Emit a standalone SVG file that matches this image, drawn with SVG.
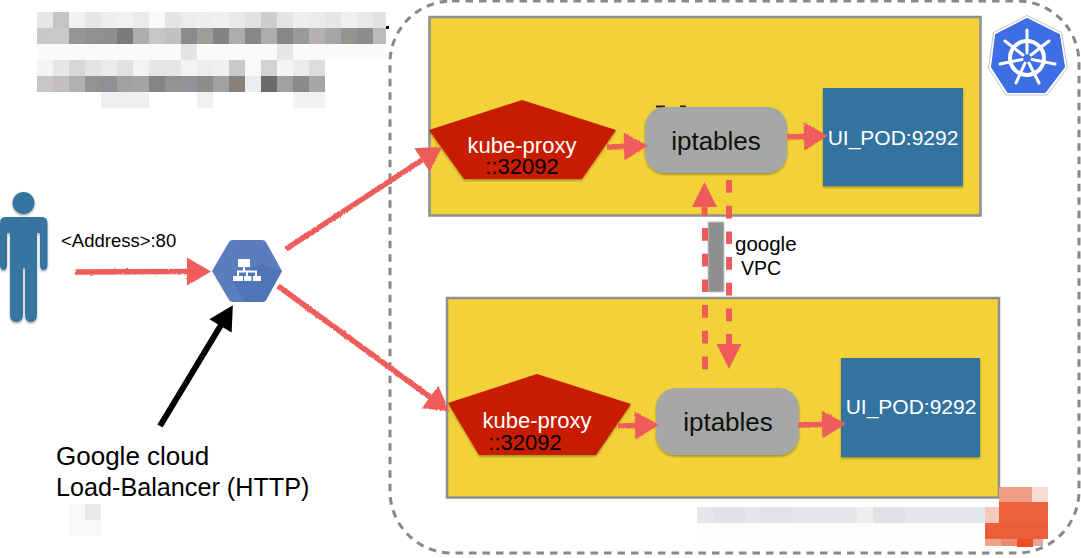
<svg xmlns="http://www.w3.org/2000/svg" width="1081" height="558" viewBox="0 0 1081 558">
<defs>
<filter id="sh" x="-10%" y="-10%" width="120%" height="125%"><feDropShadow dx="0" dy="1.5" stdDeviation="1.2" flood-color="#000" flood-opacity="0.35"/></filter>
<filter id="rough" filterUnits="userSpaceOnUse" x="0" y="0" width="1081" height="558"><feTurbulence type="fractalNoise" baseFrequency="0.4" numOctaves="2" seed="4"/><feDisplacementMap in="SourceGraphic" scale="2.500" xChannelSelector="R" yChannelSelector="G"/></filter>
<marker id="ah" markerUnits="userSpaceOnUse" markerWidth="26" markerHeight="30" refX="1" refY="15" orient="auto"><path d="M1 1L25 15L1 29Z" fill="#ef5b5b"/></marker>
<marker id="ahb" markerUnits="userSpaceOnUse" markerWidth="28" markerHeight="28" refX="1" refY="13.500" orient="auto"><path d="M1 1L26 13.500L1 26Z" fill="#ef5b5b"/></marker>
<marker id="ahk" markerUnits="userSpaceOnUse" markerWidth="26" markerHeight="28" refX="2" refY="14" orient="auto"><path d="M1 1L25 14L1 27Z" fill="#000"/></marker>
</defs>
<style>
text{font-family:"Liberation Sans",Arial,sans-serif}
.box{fill:#f2d238;stroke:#8f8f8f;stroke-width:2.5}
.ipt{fill:#a5a8a6}
.pod{fill:#31739f}
.prx{fill:#c81e06}
.con{fill:none;stroke:#ef5b5b;stroke-width:5.500}
.stem{fill:none;stroke:#ef5b5b;stroke-width:6}
.dash{fill:none;stroke:#ef5b5b;stroke-width:6;stroke-dasharray:12.700 13}
.w{fill:#fff;font-size:22px;text-anchor:middle}
.u{fill:#fff;font-size:21px;text-anchor:middle}
.b{fill:#000;font-size:22px;text-anchor:middle}
.big{fill:#111;font-size:26px;text-anchor:middle}
.v{fill:#000;font-size:18.500px}
</style>
<rect width="1081" height="558" fill="#fff"/>
<g id="blur-top" shape-rendering="crispEdges">
<rect x="37" y="12" width="16" height="16" fill="#e6e6e5"/><rect x="53" y="12" width="16" height="16" fill="#c4c4c4"/><rect x="69" y="12" width="16" height="16" fill="#f2f2f2"/><rect x="85" y="12" width="16" height="16" fill="#e6e6e6"/><rect x="101" y="12" width="16" height="16" fill="#eeeeee"/><rect x="117" y="12" width="16" height="16" fill="#f1f1f1"/><rect x="133" y="12" width="16" height="16" fill="#ebebeb"/><rect x="149" y="12" width="16" height="16" fill="#f9f9f9"/><rect x="165" y="12" width="16" height="16" fill="#e4e4e2"/><rect x="181" y="12" width="16" height="16" fill="#ececec"/><rect x="197" y="12" width="16" height="16" fill="#edefee"/><rect x="213" y="12" width="16" height="16" fill="#f0f0f0"/><rect x="229" y="12" width="16" height="16" fill="#e9e9e9"/><rect x="245" y="12" width="16" height="16" fill="#e2e0e0"/><rect x="261" y="12" width="16" height="16" fill="#cdcdcd"/><rect x="277" y="12" width="16" height="16" fill="#e3e3e3"/><rect x="293" y="12" width="16" height="16" fill="#eeeeee"/><rect x="309" y="12" width="16" height="16" fill="#ebebeb"/><rect x="325" y="12" width="16" height="16" fill="#e6e6e6"/><rect x="341" y="12" width="16" height="16" fill="#eef0f1"/><rect x="357" y="12" width="16" height="16" fill="#e8e8e8"/><rect x="373" y="12" width="13" height="16" fill="#e2e2e2"/>
<rect x="37" y="28" width="16" height="16" fill="#c9c8c8"/><rect x="53" y="28" width="16" height="16" fill="#c9c9c9"/><rect x="69" y="28" width="16" height="16" fill="#979592"/><rect x="85" y="28" width="16" height="16" fill="#90918f"/><rect x="101" y="28" width="16" height="16" fill="#8f8f8f"/><rect x="117" y="28" width="16" height="16" fill="#7b7b7e"/><rect x="133" y="28" width="16" height="16" fill="#aeaeae"/><rect x="149" y="28" width="16" height="16" fill="#c5c6c7"/><rect x="165" y="28" width="16" height="16" fill="#c1c1c1"/><rect x="181" y="28" width="16" height="16" fill="#8a8b8c"/><rect x="197" y="28" width="16" height="16" fill="#a09d99"/><rect x="213" y="28" width="16" height="16" fill="#828387"/><rect x="229" y="28" width="16" height="16" fill="#adacaa"/><rect x="245" y="28" width="16" height="16" fill="#87888a"/><rect x="261" y="28" width="16" height="16" fill="#adaca9"/><rect x="277" y="28" width="16" height="16" fill="#868688"/><rect x="293" y="28" width="16" height="16" fill="#97999a"/><rect x="309" y="28" width="16" height="16" fill="#b6b0b0"/><rect x="325" y="28" width="16" height="16" fill="#a5a6a7"/><rect x="341" y="28" width="16" height="16" fill="#96948f"/><rect x="357" y="28" width="16" height="16" fill="#8b8e91"/><rect x="373" y="28" width="13" height="16" fill="#bcbbb8"/>
<rect x="37" y="44" width="349" height="16" fill="#fafafa"/><rect x="181" y="44" width="16" height="16" fill="#e4e4e4"/><rect x="277" y="44" width="16" height="16" fill="#e6e7e8"/>
<rect x="37" y="60" width="16" height="16" fill="#f5f4f2"/><rect x="53" y="60" width="16" height="16" fill="#e6e6e6"/><rect x="69" y="60" width="16" height="16" fill="#d6d7d9"/><rect x="85" y="60" width="16" height="16" fill="#e4e3e1"/><rect x="101" y="60" width="16" height="16" fill="#ebebeb"/><rect x="117" y="60" width="16" height="16" fill="#dfe1e3"/><rect x="133" y="60" width="16" height="16" fill="#f3f3f3"/><rect x="149" y="60" width="32" height="16" fill="#e6e6e6"/><rect x="181" y="60" width="16" height="16" fill="#f1f3f5"/><rect x="197" y="60" width="16" height="16" fill="#ededed"/><rect x="213" y="60" width="16" height="16" fill="#f0f0f0"/><rect x="229" y="60" width="16" height="16" fill="#c9c9c9"/><rect x="245" y="60" width="16" height="16" fill="#f8f9fb"/><rect x="261" y="60" width="16" height="16" fill="#d2d2d2"/><rect x="277" y="60" width="16" height="16" fill="#f4f4f4"/><rect x="293" y="60" width="16" height="16" fill="#ebebe9"/><rect x="309" y="60" width="16" height="16" fill="#dcddde"/>
<rect x="37" y="76" width="16" height="16" fill="#c7c6c4"/><rect x="53" y="76" width="16" height="16" fill="#c3bfbc"/><rect x="69" y="76" width="16" height="16" fill="#b0b1b3"/><rect x="85" y="76" width="16" height="16" fill="#94928e"/><rect x="101" y="76" width="16" height="16" fill="#8f9095"/><rect x="117" y="76" width="16" height="16" fill="#a3a19e"/><rect x="133" y="76" width="16" height="16" fill="#a3a3a5"/><rect x="149" y="76" width="16" height="16" fill="#838486"/><rect x="165" y="76" width="16" height="16" fill="#94928f"/><rect x="181" y="76" width="16" height="16" fill="#92939a"/><rect x="197" y="76" width="16" height="16" fill="#8f8d89"/><rect x="213" y="76" width="16" height="16" fill="#a0a0a0"/><rect x="229" y="76" width="16" height="16" fill="#87807b"/><rect x="245" y="76" width="16" height="16" fill="#e9edf0"/><rect x="261" y="76" width="16" height="16" fill="#6b6b6b"/><rect x="277" y="76" width="16" height="16" fill="#a0a0a2"/><rect x="293" y="76" width="16" height="16" fill="#8c8a86"/><rect x="309" y="76" width="16" height="16" fill="#a6a7a9"/>
<rect x="101" y="92" width="48" height="16" fill="#eeefee"/><rect x="197" y="92" width="16" height="16" fill="#f1f1f1"/><rect x="293" y="92" width="32" height="16" fill="#f2f2f2"/>
<rect x="386" y="26" width="3" height="3" fill="#000"/>
</g>
<rect id="outer" x="390" y="1" width="689" height="552" rx="62" fill="none" stroke="#87878c" stroke-width="3" stroke-dasharray="7.500 6"/>
<g id="node-top">
<rect class="box" x="429.500" y="17" width="551" height="198.500"/>
<path d="M656 105.500h9v2h-9zM680 105.500h6v2h-6z" fill="#222"/>
</g>
<g id="node-bottom">
<rect class="box" x="447" y="298" width="552" height="199.500"/>
</g>
<g id="k8s-logo">
<path d="M1027 15.500L1061.500 32.500L1067.500 68L1047 95H1006L988.500 68L993.500 32.500Z" fill="#fff" stroke="#c4c4c4"/>
<path d="M1027 19L1059 35L1064 67L1045 92H1008L992 67L996 35Z" fill="#3d6ee3" stroke="#3d6ee3" stroke-linejoin="round" stroke-width="2"/>
<g fill="none" stroke="#fff" stroke-linecap="round">
<circle cx="1027" cy="58" r="17" stroke-width="4"/>
<path stroke-width="3" d="M1027 30V53M1005 41L1023 55M1049 41L1031 55M1000 64L1022 59.500M1055 64L1032 59.500M1016 83L1025 63M1039 83L1029 63"/>
</g>
<circle cx="1027" cy="58" r="3" fill="#3d6ee3"/>
</g>
<g id="person" filter="url(#sh)">
<circle cx="23.500" cy="203" r="11" fill="#34759f"/>
<path d="M5 217H42Q47.500 217 47.500 223V265Q47.500 270 43.500 270Q40 270 40 265V233H37V314Q37 322 30.500 322Q25 322 25 314V268H23V314Q23 322 16.500 322Q10 322 10 314V233H7V265Q7 270 3.500 270Q0 270 0 265V223Q0 217 5 217Z" fill="#34759f"/>
</g>
<g id="lb">
<path d="M212 271L229 242Q230 240 233 240H262Q265 240 266 242L282 271L266 300Q265 302 262 302H233Q230 302 229 300Z" fill="#5a7dbd"/>
<path d="M259 263L282 271L266 300Q265 302 262 302H245L233 281Z" fill="#5075b6"/>
<g fill="#fff"><rect x="238" y="259" width="12" height="8"/><rect x="243" y="267" width="2" height="4"/><rect x="237" y="270.500" width="20" height="2"/><rect x="237" y="271" width="2" height="5"/><rect x="246" y="271" width="2" height="5"/><rect x="255" y="271" width="2" height="5"/><rect x="233" y="276" width="10" height="5"/><rect x="244" y="276" width="7.500" height="5"/><rect x="253" y="276" width="8" height="5"/></g>
</g>
<g id="kube-proxy-top" filter="url(#sh)">
<path class="prx" d="M429 130L522 100L616 130L582 179H464Z"/>
</g>
<text class="w" x="522" y="153">kube-proxy</text>
<text class="b" x="522" y="174">::32092</text>
<g id="iptables-top" filter="url(#sh)"><rect class="ipt" x="645" y="107" width="142" height="66" rx="20"/></g>
<text class="big" x="716" y="150">iptables</text>
<g id="pod-top" filter="url(#sh)"><rect class="pod" x="823" y="88" width="140" height="98"/></g>
<text class="u" x="893" y="145">UI_POD:9292</text>
<g id="kube-proxy-bottom" filter="url(#sh)">
<path class="prx" d="M448 403L537 374L631 404L596 455H479Z"/>
</g>
<text class="w" x="537" y="428">kube-proxy</text>
<text class="b" x="525" y="450">::32092</text>
<g id="iptables-bottom" filter="url(#sh)"><rect class="ipt" x="656" y="388" width="143" height="67" rx="20"/></g>
<text class="big" x="728" y="431">iptables</text>
<g id="pod-bottom" filter="url(#sh)"><rect class="pod" x="841" y="358" width="139" height="99"/></g>
<text class="u" x="911" y="414">UI_POD:9292</text>
<g id="vpc"><rect x="708" y="222" width="16" height="70" fill="#8f8f8f" stroke="#c9c9c9"/></g>
<g id="connectors">
<g filter="url(#rough)">
<path class="con" d="M75 272L187 271.500" marker-end="url(#ah)"/>
<path class="con" d="M286 249L422 160" marker-end="url(#ah)"/>
<path class="con" d="M278 286L430 397" marker-end="url(#ah)"/>
<path class="con" d="M607 147L624 146.500" marker-end="url(#ah)"/>
<path class="con" d="M787 137L804 136.500" marker-end="url(#ah)"/>
<path class="con" d="M618 426L635 425.500" marker-end="url(#ah)"/>
<path class="con" d="M798 425L822 424.500" marker-end="url(#ah)"/>
</g>
<path class="stem" d="M704.500 216V207" marker-end="url(#ahb)"/>
<path class="dash" d="M705 228V370"/>
<path class="dash" d="M729 180V323"/>
<path class="stem" d="M729 334V344" marker-end="url(#ahb)"/>
<path d="M160 426L221 325" fill="none" stroke="#000" stroke-width="6" marker-end="url(#ahk)"/>
</g>
<text class="v" x="61" y="247">&lt;Address&gt;:80</text>
<text class="v" style="font-size:20.500px" x="735" y="251">google</text>
<text class="v" style="font-size:19.500px" x="741" y="275">VPC</text>
<text style="font-size:26px" fill="#000" x="56" y="465">Google cloud</text>
<text style="font-size:25.200px" fill="#000" x="56" y="496">Load-Balancer (HTTP)</text>
<g id="blur-bottom" shape-rendering="crispEdges">
<rect x="697" y="507" width="288" height="16" fill="#e5e8ea"/><rect x="713" y="507" width="32" height="16" fill="#dfe3e5"/><rect x="761" y="507" width="32" height="16" fill="#e0e4e6"/><rect x="873" y="507" width="32" height="16" fill="#dee2e4"/><rect x="857" y="507" width="16" height="16" fill="#ecefef"/><rect x="697" y="523" width="288" height="16" fill="#fdfdfd"/>
<rect x="985" y="507" width="14" height="16" fill="#f6c9bd"/>
<rect x="999" y="487" width="33" height="15" fill="#f09d87"/><rect x="1032" y="487" width="16" height="15" fill="#fadcd4"/>
<rect x="999" y="502" width="49" height="21" fill="#ec623c"/>
<rect x="985" y="523" width="63" height="16" fill="#ea5f38"/>
<rect x="985" y="539" width="16" height="7" fill="#f3a28f"/><rect x="1001" y="539" width="16" height="7" fill="#ee8a70"/><rect x="1017" y="539" width="16" height="8" fill="#ee4d24"/><rect x="1033" y="539" width="10" height="7" fill="#e9a597"/>
<rect x="69" y="504" width="16" height="16" fill="#f8f8f8"/><rect x="85" y="504" width="16" height="16" fill="#e8e9ec"/><rect x="69" y="520" width="32" height="16" fill="#f8f8f8"/>
</g>
</svg>
